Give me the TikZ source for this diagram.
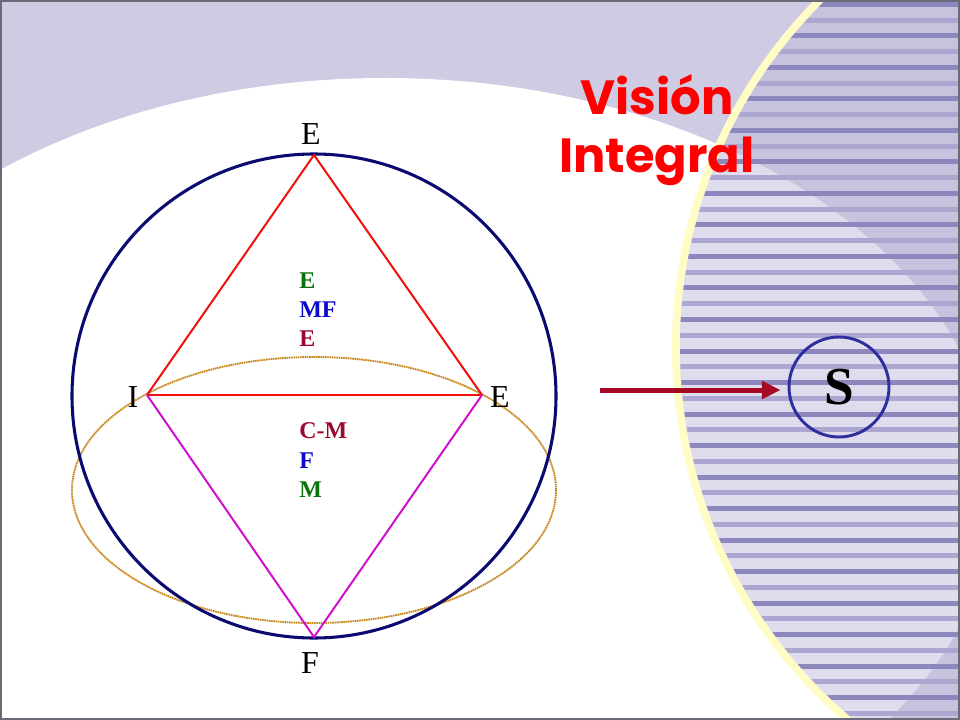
\documentclass[tikz,border=0pt]{standalone}
\usepackage{fontspec}
\setmainfont{Liberation Serif}
\newfontfamily\titlefont{Poppins}
\usetikzlibrary{arrows.meta}
\definecolor{lav}{HTML}{CFCBE3}
\definecolor{cream}{HTML}{FFFCC6}
\definecolor{veil}{HTML}{C0BCDD}
\definecolor{stripedark}{HTML}{8C87BD}
\definecolor{stripemed}{HTML}{ACA7D1}
\definecolor{navyc}{HTML}{0A0A70}
\definecolor{redline}{HTML}{F01010}
\definecolor{magline}{HTML}{D010D0}
\definecolor{orangeline}{HTML}{C8881E}
\definecolor{lgreen}{HTML}{0A720A}
\definecolor{lblue}{HTML}{0A0AC8}
\definecolor{lred}{HTML}{9A0A30}
\definecolor{sblue}{HTML}{2E2E9E}
\definecolor{arrowred}{HTML}{A50A25}
\definecolor{framec}{HTML}{6A6A78}
\tikzset{
  bigletter/.style={anchor=base, font=\fontsize{24}{28}\selectfont, text=black, inner sep=0pt},
  smalllabel/.style={anchor=base west, font=\bfseries\fontsize{18}{21}\selectfont, inner sep=0pt},
  titletext/.style={anchor=base, font=\titlefont\bfseries\fontsize{36}{44}\selectfont, text=red, inner sep=0pt},
  edgered/.style={draw=redline, line width=1.5pt},
  edgemag/.style={draw=magline, line width=1.5pt},
}
\begin{document}
\begin{tikzpicture}[x=0.75pt,y=-0.75pt]
\useasboundingbox (0,0) rectangle (960,720);
% background
\fill[lav] (0,0) rectangle (960,720);
\fill[white] (385,488) ellipse [x radius=610, y radius=410];
\fill[cream] (1166,347) circle [radius=494];
\begin{scope}
  \clip (1166,347) circle [radius=486];
  \fill[lav] (600,-10) rectangle (970,730);
  \fill[white] (385,488) ellipse [x radius=610, y radius=410];
  \fill[veil, opacity=0.5] (600,-10) rectangle (970,730);
  \foreach \k in {0,...,22} {
    \fill[stripedark] (600,{2+31.5*\k}) rectangle (970,{7+31.5*\k});
    \fill[stripemed] (600,{17.75+31.5*\k}) rectangle (970,{22.75+31.5*\k});
  }
\end{scope}
% diagram
\coordinate (vt) at (314,155);
\coordinate (vi) at (147,395);
\coordinate (ve) at (482,395);
\coordinate (vf) at (314,637);
\draw[orangeline, line width=1.4pt, dash pattern=on 1.2pt off 0.5pt] (314,490) ellipse [x radius=242, y radius=133];
\draw[navyc, line width=2.3pt] (314,396) circle [radius=242];
\draw[edgered] (vi) -- (vt) -- (ve);
\draw[edgered] (vi) -- (ve);
\draw[edgemag] (vi) -- (vf) -- (ve);
% big letters
\node[bigletter] (lt) at (311,145) {E};
\node[bigletter] (li) at (133,407) {I};
\node[bigletter] (le) at (500,407) {E};
\node[bigletter] (lf) at (310,673) {F};
% small labels
\node[smalllabel, text=lgreen] (s1) at (299,288) {E};
\node[smalllabel, text=lblue] (s2) at (299,317) {MF};
\node[smalllabel, text=lred] (s3) at (299,346) {E};
\node[smalllabel, text=lred] (s4) at (299,438) {C-M};
\node[smalllabel, text=lblue] (s5) at (299,468) {F};
\node[smalllabel, text=lgreen] (s6) at (299,497) {M};
% title
\node[titletext] (t1) at (657,115) {Visión};
\node[titletext] (t2) at (657,173) {Integral};
% S circle and arrow
\node[circle, draw=sblue, line width=2.2pt, minimum size=75pt, inner sep=0pt,
      font=\bfseries\fontsize{40}{44}\selectfont] (S) at (839,387) {S};
\coordinate (astart) at (600,390);
\draw[arrowred, line width=3.75pt, -{Triangle[length=14pt,width=13pt]}] (astart) -- ([xshift=-5.25pt]S.west |- astart);
% frame
\draw[framec, line width=3pt] (0,0) rectangle (960,720);
\end{tikzpicture}
\end{document}
